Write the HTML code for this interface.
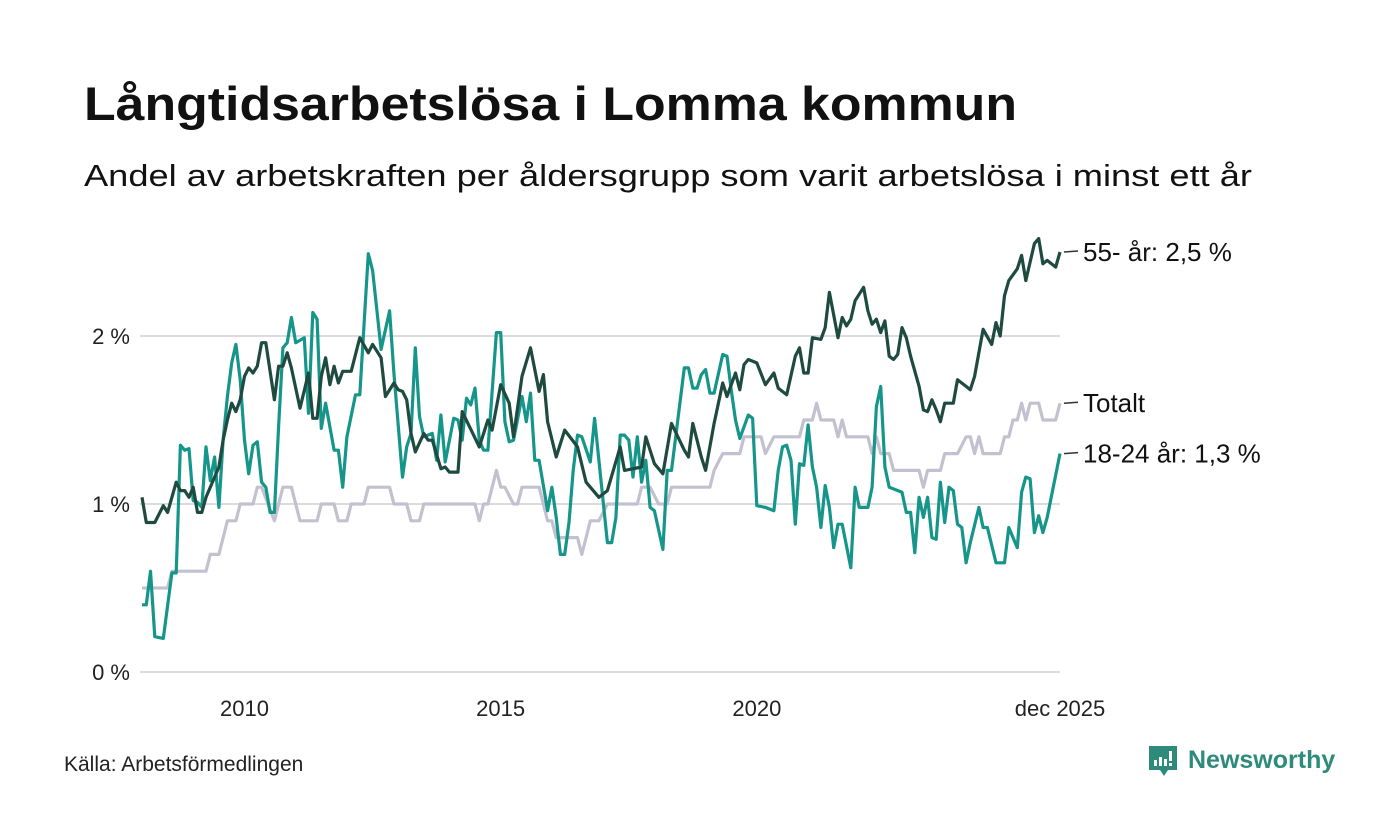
<!DOCTYPE html>
<html><head><meta charset="utf-8">
<style>
html,body{margin:0;padding:0;background:#fff;}
svg{display:block;font-family:"Liberation Sans",sans-serif;}
</style></head>
<body>
<svg id="chart" width="1400" height="840" viewBox="0 0 1400 840">
<text x="84" y="120" font-size="47" font-weight="bold" fill="#111" textLength="933" lengthAdjust="spacingAndGlyphs">Långtidsarbetslösa i Lomma kommun</text>
<text x="84" y="186" font-size="31" fill="#111" textLength="1168" lengthAdjust="spacingAndGlyphs">Andel av arbetskraften per åldersgrupp som varit arbetslösa i minst ett år</text>
<g id="grid"></g>
<g id="ylabels"></g>
<g id="xlabels"></g>
<g id="series"></g>
<g id="labels"></g>
<text x="64" y="771" font-size="21" fill="#222">Källa: Arbetsförmedlingen</text>
<g>
<path d="M1149 746 h28 v24 h-9 l-4 6 l-4 -6 h-11 z" fill="#2e8b7c"/>
<rect x="1154" y="760" width="3" height="6" fill="#fff"/><rect x="1159" y="757" width="3" height="9" fill="#fff"/><rect x="1164" y="759" width="3" height="7" fill="#fff"/><rect x="1169" y="751" width="3" height="10" fill="#fff"/><rect x="1169" y="763" width="3" height="3" fill="#fff"/>
<text x="1188" y="768" font-size="25" font-weight="bold" fill="#2e8b7c">Newsworthy</text>
</g>
</svg>
<script>
// Month index since Jan 2008
const yTicks = [0, 1, 2];
const yTickLabels = ["0 %", "1 %", "2 %"];
const xTickMonths = [24, 84, 144, 215];
const xTickLabels = ["2010", "2015", "2020", "dec 2025"];

const m55 = [0,1,3,5,6,8,9,10,11,12,13,14,15,17,18,19,20,21,22,23,24,25,26,27,28,29,31,32,33,34,35,37,39,40,41,42,43,44,45,46,47,49,51,53,54,56,57,59,60,61,62,63,64,66,67,68,70,71,72,74,75,79,81,82,84,86,87,89,91,93,94,95,97,99,102,104,107,109,112,113,117,118,120,122,124,127,128,129,131,132,134,136,137,139,140,141,142,144,146,148,149,151,153,154,155,156,157,159,160,161,163,164,165,166,167,169,170,171,172,173,174,175,176,177,178,179,180,182,183,184,185,186,187,188,190,191,193,194,195,197,199,200,201,202,203,205,206,207,209,210,211,212,214,215];
const v55 = [1.04,0.89,0.89,0.99,0.95,1.13,1.08,1.08,1.04,1.10,0.95,0.95,1.04,1.16,1.22,1.38,1.50,1.60,1.55,1.62,1.76,1.81,1.78,1.82,1.96,1.96,1.62,1.82,1.82,1.90,1.81,1.57,1.78,1.51,1.51,1.76,1.87,1.71,1.82,1.72,1.79,1.79,1.99,1.90,1.95,1.87,1.64,1.72,1.68,1.67,1.62,1.42,1.31,1.42,1.38,1.38,1.21,1.22,1.19,1.19,1.55,1.34,1.50,1.44,1.71,1.60,1.40,1.76,1.93,1.67,1.77,1.49,1.28,1.44,1.34,1.13,1.04,1.08,1.34,1.20,1.22,1.40,1.24,1.18,1.48,1.32,1.28,1.48,1.28,1.20,1.48,1.72,1.64,1.78,1.68,1.83,1.86,1.84,1.71,1.78,1.69,1.65,1.88,1.93,1.78,1.78,1.99,1.98,2.05,2.26,1.99,2.11,2.06,2.10,2.21,2.29,2.15,2.07,2.10,2.02,2.09,1.88,1.86,1.89,2.05,1.99,1.88,1.70,1.56,1.55,1.62,1.56,1.49,1.60,1.60,1.74,1.70,1.68,1.76,2.04,1.95,2.08,2.00,2.24,2.33,2.40,2.48,2.33,2.55,2.58,2.43,2.45,2.41,2.50];

const m1824 = [0,1,2,3,5,7,8,9,10,11,12,13,14,15,16,17,18,19,20,21,22,23,24,25,26,27,28,29,30,31,32,33,34,35,36,38,39,40,41,42,43,45,46,47,48,50,51,53,54,56,58,59,61,62,63,64,65,66,68,69,70,71,73,74,75,76,77,78,79,80,81,83,84,85,86,87,89,90,91,92,93,95,96,97,98,99,100,101,102,103,105,106,107,109,110,111,112,113,114,115,116,117,118,119,120,122,123,124,127,128,129,130,131,132,133,134,136,137,138,139,140,142,143,144,146,148,149,150,151,152,153,154,155,156,157,158,159,160,161,162,163,164,166,167,168,170,171,172,173,174,175,178,179,180,181,182,183,184,185,186,187,188,189,190,191,192,193,194,196,197,198,200,202,203,205,206,207,208,209,210,211,212,215];
const v1824 = [0.40,0.40,0.60,0.21,0.20,0.59,0.59,1.35,1.32,1.33,1.02,1.01,0.98,1.34,1.14,1.28,0.98,1.38,1.64,1.84,1.95,1.74,1.38,1.18,1.35,1.37,1.13,1.10,0.95,0.95,1.46,1.93,1.96,2.11,1.96,1.99,1.54,2.14,2.10,1.45,1.60,1.32,1.32,1.10,1.40,1.65,1.65,2.49,2.39,1.92,2.15,1.78,1.16,1.34,1.42,1.93,1.52,1.40,1.42,1.26,1.53,1.25,1.51,1.50,1.38,1.63,1.59,1.69,1.38,1.32,1.32,2.02,2.02,1.49,1.37,1.38,1.64,1.49,1.66,1.26,1.26,0.96,1.10,0.92,0.70,0.70,0.89,1.20,1.41,1.40,1.25,1.51,1.26,0.77,0.77,0.92,1.41,1.41,1.38,1.16,1.40,1.13,1.26,0.98,0.96,0.73,1.20,1.20,1.81,1.81,1.69,1.69,1.77,1.80,1.66,1.66,1.89,1.88,1.68,1.50,1.39,1.53,1.51,0.99,0.98,0.96,1.20,1.34,1.35,1.26,0.88,1.24,1.23,1.47,1.22,1.10,0.86,1.11,0.98,0.74,0.88,0.88,0.62,1.10,0.98,0.98,1.10,1.58,1.70,1.22,1.10,1.07,0.95,0.95,0.71,1.04,0.92,1.04,0.80,0.79,1.13,0.89,1.10,1.08,0.88,0.86,0.65,0.77,0.98,0.86,0.86,0.65,0.65,0.86,0.74,1.07,1.16,1.15,0.83,0.93,0.83,0.92,1.30];

const mTot = [0,6,7,15,16,18,20,22,23,26,27,28,31,33,35,37,41,42,45,46,48,49,52,53,58,59,62,63,65,66,78,79,80,81,83,84,85,87,88,89,93,95,96,97,102,103,104,105,107,109,116,117,119,121,123,124,133,134,136,140,141,145,146,148,154,155,157,158,159,162,163,164,165,170,171,172,173,175,176,182,183,184,187,188,191,193,194,195,196,197,201,202,203,204,205,206,207,208,210,211,214,215];
const vTot = [0.5,0.5,0.6,0.6,0.7,0.7,0.9,0.9,1.0,1.0,1.1,1.1,0.9,1.1,1.1,0.9,0.9,1.0,1.0,0.9,0.9,1.0,1.0,1.1,1.1,1.0,1.0,0.9,0.9,1.0,1.0,0.9,1.0,1.0,1.2,1.1,1.1,1.0,1.0,1.1,1.1,0.9,0.9,0.8,0.8,0.7,0.8,0.9,0.9,1.0,1.0,1.1,1.1,1.0,1.0,1.1,1.1,1.2,1.3,1.3,1.4,1.4,1.3,1.4,1.4,1.5,1.5,1.6,1.5,1.5,1.4,1.5,1.4,1.4,1.3,1.4,1.3,1.3,1.2,1.2,1.1,1.2,1.2,1.3,1.3,1.4,1.4,1.3,1.4,1.3,1.3,1.4,1.4,1.5,1.5,1.6,1.5,1.6,1.6,1.5,1.5,1.6];

const NS = "http://www.w3.org/2000/svg";
const X0 = 142, X1 = 1060, M1 = 215, Y0 = 672, PXPER = 168;
function xScale(m){ return X0 + m * (X1 - X0) / M1; }
function yScale(v){ return Y0 - v * PXPER; }
function mk(tag, attrs, parent){ const e = document.createElementNS(NS, tag); for (const k in attrs) e.setAttribute(k, attrs[k]); parent.appendChild(e); return e; }

const grid = document.getElementById('grid');
const yl = document.getElementById('ylabels');
yTicks.forEach((t, i) => {
  const ln = mk('line', {x1: 140, x2: 1060, y1: yScale(t), y2: yScale(t), stroke: '#dcdcdf', 'stroke-width': 2}, grid);
  
  
  const tx = mk('text', {x: 130, y: yScale(t) + 8, 'text-anchor': 'end', 'font-size': 22, fill: '#222'}, yl);
  tx.textContent = yTickLabels[i];
  
  
});
const xl = document.getElementById('xlabels');
xTickMonths.forEach((m, i) => {
  const tx = mk('text', {x: xScale(m), y: 716, 'text-anchor': 'middle', 'font-size': 22, fill: '#222'}, xl);
  tx.textContent = xTickLabels[i];
  
  
});

const ser = document.getElementById('series');
function line(ms, vs, color, name){
  const d = ms.map((m, i) => (i ? 'L' : 'M') + xScale(m).toFixed(1) + ' ' + yScale(vs[i]).toFixed(1)).join(' ');
  const p = mk('path', {d: d, fill: 'none', stroke: color, 'stroke-width': 3.2, 'stroke-linejoin': 'round'}, ser);
  
  
}
line(mTot, vTot, '#c3c1cf', 'line-totalt');
line(m1824, v1824, '#16968a', 'line-18-24');
line(m55, v55, '#1f4a40', 'line-55');

const lab = document.getElementById('labels');
[[v55, '55- år: 2,5 %', 'label-55'], [vTot, 'Totalt', 'label-totalt'], [v1824, '18-24 år: 1,3 %', 'label-18-24']].forEach(r => {
  const y = yScale(r[0][r[0].length - 1]);
  const l = mk('line', {x1: 1064, x2: 1078, y1: y, y2: y - 1, stroke: '#333', 'stroke-width': 1.5}, lab);
  
  
  const t = mk('text', {x: 1083, y: y + 9, 'font-size': 26, fill: '#111'}, lab);
  t.textContent = r[1];
  
  
});
</script>
</body></html>
